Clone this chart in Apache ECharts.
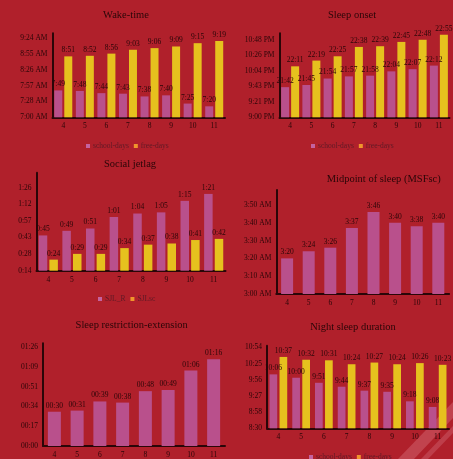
<!DOCTYPE html>
<html>
<head>
<meta charset="utf-8">
<script src="https://cdn.jsdelivr.net/npm/echarts@6/dist/echarts.min.js"></script>
<style>
  html, body { margin: 0; padding: 0; background: #b0202b; }
  #chart { width: 453px; height: 459px; }
</style>
</head>
<body>
<div id="chart"></div>
<script>
// Age groups (years) shared by every panel
const ages = ['4', '5', '6', '7', '8', '9', '10', '11'];

// Wake-time (clock time, AM)
const wakeSchool = ['7:49', '7:48', '7:44', '7:43', '7:38', '7:40', '7:25', '7:20'];
const wakeFree   = ['8:51', '8:52', '8:56', '9:03', '9:06', '9:09', '9:15', '9:19'];

// Sleep onset (24 h clock)
const onsetSchool = ['21:42', '21:45', '21:54', '21:57', '21:58', '22:04', '22:07', '22:12'];
const onsetFree   = ['22:11', '22:19', '22:25', '22:38', '22:39', '22:45', '22:48', '22:55'];

// Social jetlag (h:mm)
const sjlR  = ['0:45', '0:49', '0:51', '1:01', '1:04', '1:05', '1:15', '1:21'];
const sjlSc = ['0:24', '0:29', '0:29', '0:34', '0:37', '0:38', '0:41', '0:42'];

// Midpoint of sleep on free days, corrected (AM)
const msfsc = ['3:20', '3:24', '3:26', '3:37', '3:46', '3:40', '3:38', '3:40'];

// Sleep restriction-extension (hh:mm)
const restriction = ['00:30', '00:31', '00:39', '00:38', '00:48', '00:49', '01:06', '01:16'];

// Night sleep duration (h:mm)
const durSchool = ['10:06', '10:00', '9:51', '9:44', '9:37', '9:35', '9:18', '9:08'];
const durFree   = ['10:37', '10:32', '10:31', '10:24', '10:27', '10:24', '10:26', '10:23'];

// Panel titles and legend names
const titles = ['Wake-time', 'Sleep onset', 'Social jetlag', 'Midpoint of sleep (MSFsc)',
                'Sleep restriction-extension', 'Night sleep duration'];
const dayNames = ['school-days', 'free-days'];
const sjlNames = ['SJL_R', 'SJLsc'];

const BG = '#b0202b';
const PINK = '#b9508c';
const YELLOW = '#e6c11e';
const INK = '#2a0608';
const FONT = '"Liberation Serif", "DejaVu Serif", serif';

const toMin = s => { const p = s.split(':'); return (+p[0]) * 60 + (+p[1]); };
const pad2 = n => (n < 10 ? '0' : '') + n;

function clock(v, withSuffix, padHour) {
  const t = Math.floor(v + 1e-6);
  const h = Math.floor(t / 60) % 24, m = t % 60;
  if (withSuffix) {
    const h12 = (h % 12) || 12;
    return h12 + ':' + pad2(m) + (h < 12 ? ' AM' : ' PM');
  }
  return (padHour ? pad2(h) : h) + ':' + pad2(m);
}

// Grid boxes for the 2 x 3 panel layout
const grids = [
  { left: 52.5,  top: 33.3,  width: 172.5, height: 84 },
  { left: 279.5, top: 33.3,  width: 170,   height: 84 },
  { left: 36.5,  top: 172.7, width: 189,   height: 98 },
  { left: 276.3, top: 190,   width: 172.8, height: 104 },
  { left: 43,    top: 343.3, width: 182,   height: 103.4 },
  { left: 267,   top: 345.7, width: 182,   height: 82.6 }
];

// Value-axis ranges (minutes) and tick step
const axisSpec = [
  { min: 420,  max: 573,   interval: 28.8,  fmt: v => clock(v, true) },
  { min: 1260, max: 1377,  interval: 21.6,  fmt: v => clock(v, true) },
  { min: 14.4, max: 99.4,  interval: 14.4,  fmt: v => clock(v, false) },
  { min: 180,  max: 238.4, interval: 10,    fmt: v => clock(v, true) },
  { min: 0,    max: 89.9,  interval: 17.28, fmt: v => clock(v, false, true) },
  { min: 510,  max: 657,   interval: 28.8,  fmt: v => clock(v, false) }
];

const titleCenters = [[126, 9.7], [352, 10], [130, 158.3], [383.7, 173.3], [131.7, 319.7], [353, 321.7]];

const axisLineStyle = { show: true, lineStyle: { color: INK, width: 2 } };

const xAxes = grids.map((g, i) => ({
  type: 'category', gridIndex: i, data: ages,
  axisLine: axisLineStyle, axisTick: { show: false },
  axisLabel: { color: INK, fontFamily: FONT, fontSize: 7.5, margin: 5 }
}));

const yAxes = axisSpec.map((a, i) => ({
  type: 'value', gridIndex: i, min: a.min, max: a.max, interval: a.interval,
  axisLine: axisLineStyle, axisTick: { show: false }, splitLine: { show: false },
  axisLabel: { color: INK, fontFamily: FONT, fontSize: 7.5, margin: 5,
               showMaxLabel: false, formatter: a.fmt }
}));

function barSeries(name, idx, strings, color, width, gap) {
  const s = {
    name: name, type: 'bar', xAxisIndex: idx, yAxisIndex: idx,
    data: strings.map(toMin), barWidth: width,
    itemStyle: { color: color },
    label: {
      show: true, position: 'top', distance: 2, color: INK,
      fontFamily: FONT, fontSize: 7.5,
      formatter: p => strings[p.dataIndex]
    }
  };
  if (gap) s.barGap = gap;
  return s;
}

const series = [
  barSeries(dayNames[0], 0, wakeSchool, PINK, 8, '25%'),
  barSeries(dayNames[1], 0, wakeFree, YELLOW, 8, '25%'),
  barSeries(dayNames[0], 1, onsetSchool, PINK, 8, '25%'),
  barSeries(dayNames[1], 1, onsetFree, YELLOW, 8, '25%'),
  barSeries(sjlNames[0], 2, sjlR, PINK, 8.5, '25%'),
  barSeries(sjlNames[1], 2, sjlSc, YELLOW, 8.5, '25%'),
  barSeries('MSFsc', 3, msfsc, PINK, 12),
  barSeries('restriction', 4, restriction, PINK, 13),
  barSeries(dayNames[0], 5, durSchool, PINK, 7.7, '30%'),
  barSeries(dayNames[1], 5, durFree, YELLOW, 7.7, '30%')
];

function legendAt(left, top, names) {
  return {
    left: left, top: top, orient: 'horizontal', icon: 'rect',
    itemWidth: 4, itemHeight: 4, itemGap: 5, padding: 0,
    selectedMode: false,
    textStyle: { color: '#5e1a26', fontFamily: FONT, fontSize: 7.5, padding: [0, 0, 0, -2] },
    data: [
      { name: names[0], itemStyle: { color: '#c463a0' } },
      { name: names[1], itemStyle: { color: '#f0952c' } }
    ]
  };
}

const option = {
  backgroundColor: BG,
  animation: false,
  title: titles.map((t, i) => ({
    text: t, left: titleCenters[i][0], top: titleCenters[i][1], textAlign: 'center',
    padding: 0,
    textStyle: { color: INK, fontFamily: FONT, fontSize: 10.5, fontWeight: 'normal' }
  })),
  legend: [
    legendAt(86, 142, dayNames),
    legendAt(311, 142, dayNames),
    legendAt(98, 295, sjlNames),
    legendAt(309, 453, dayNames)
  ],
  grid: grids,
  xAxis: xAxes,
  yAxis: yAxes,
  series: series,
  graphic: [
    // faint sheen in the lower right corner of the backdrop
    { type: 'polygon', silent: true, z: -1,
      shape: { points: [[453, 402], [453, 418], [414, 459], [398, 459]] },
      style: { fill: 'rgba(255,190,205,0.22)' } },
    { type: 'polygon', silent: true, z: -1,
      shape: { points: [[453, 426], [453, 433], [428, 459], [421, 459]] },
      style: { fill: 'rgba(255,200,215,0.18)' } }
  ]
};

echarts.init(document.getElementById('chart'), null, { renderer: 'canvas' }).setOption(option);
</script>
</body>
</html>
